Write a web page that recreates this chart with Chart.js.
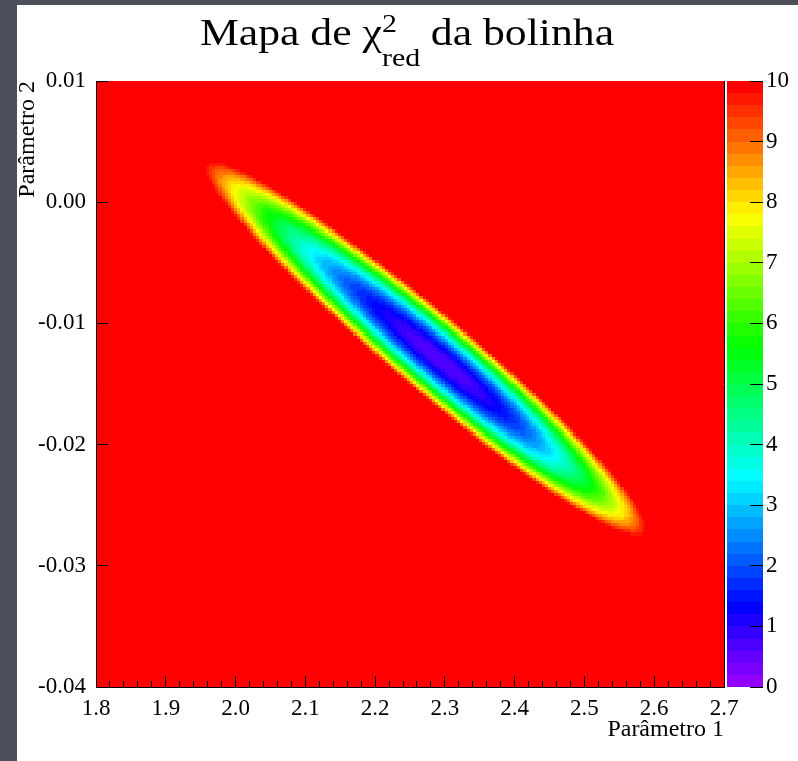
<!DOCTYPE html>
<html lang="pt">
<head>
<meta charset="utf-8">
<title>Mapa de χ² da bolinha</title>
<script src="https://cdn.jsdelivr.net/npm/chart.js@4.4.1/dist/chart.umd.min.js"></script>
<style>
    html, body { margin: 0; padding: 0; }
    body {
        width: 798px;
        height: 761px;
        overflow: hidden;
        position: relative;
        background: #4b4f59;
    }
    #panel {
        position: absolute;
        left: 17px;
        top: 5px;
        width: 781px;
        height: 756px;
        background: #fff;
    }
    #map { position: absolute; left: 0; top: 0; }
    #title {
        position: absolute;
        left: 390px;
        top: 8px;
        transform: translateX(-50%) scaleX(1.15);
        font-family: 'Liberation Serif', 'Times New Roman', serif;
        font-size: 38px;
        line-height: 38px;
        white-space: nowrap;
        color: #000;
    }
    #title .scripts {
        display: inline-block;
        position: relative;
        width: 33px;
        height: 0;
    }
    #title .scripts span {
        position: absolute;
        left: 0;
        font-size: 26px;
        line-height: 26px;
    }
    #title .sup { bottom: 8px; }
    #title .sub { top: 0; }
</style>
</head>
<body>
<div id="panel">
    <canvas id="map" width="781" height="756"></canvas>
    <div id="title">Mapa de χ<span class="scripts"><span class="sup">2</span><span class="sub">red</span></span> da bolinha</div>
</div>
<script>
// axes
const param1Range = [1.8, 2.7];
const param2Range = [-0.04, 0.01];
const param1Ticks = [1.8, 1.9, 2.0, 2.1, 2.2, 2.3, 2.4, 2.5, 2.6, 2.7];
const param2Ticks = [0.01, 0.00, -0.01, -0.02, -0.03, -0.04];
const chi2Range = [0, 10];
const chi2Ticks = [0, 1, 2, 3, 4, 5, 6, 7, 8, 9, 10];
const binCount = [200, 200];

// minimum of chi2_red and the shape of the valley around it
const bestFit = [2.297, -0.0132];
const chi2Min = 0.6;
const chi2Edge = 9.8;                 // level where the map turns red
const valleySlope = -0.0471;          // dP2/dP1 along the valley
const valleyHalfLength = [0.339, 0.290]; // in P1, towards low / high side
const valleyHalfWidth = 0.0041;       // in P2, at the centre

function chi2Red(p1, p2) {
    const t = p1 - bestFit[0];
    const r = p2 - (bestFit[1] + valleySlope * t);
    const a = t / (t < 0 ? valleyHalfLength[0] : valleyHalfLength[1]);
    const b = r / valleyHalfWidth;
    return chi2Min + (chi2Edge - chi2Min) * (a * a + b * b);
}

const bin1 = (param1Range[1] - param1Range[0]) / binCount[0];
const bin2 = (param2Range[1] - param2Range[0]) / binCount[1];
const cells = [];
for (let i = 0; i < binCount[0]; i++) {
    const p1 = param1Range[0] + (i + 0.5) * bin1;
    for (let j = 0; j < binCount[1]; j++) {
        const p2 = param2Range[0] + (j + 0.5) * bin2;
        cells.push({ x: p1, y: p2, v: chi2Red(p1, p2) });
    }
}

// ROOT "pretty" palette: 50 colours, violet -> red
const nColors = 50;
const palette = [];
for (let i = 0; i < nColors; i++) {
    const hue = 280 - (i + 1) * 280 / nColors;
    palette.push(`hsl(${hue}, 100%, 50%)`);
}

function colorFor(v) {
    const k = Math.floor(0.01 + (v - chi2Range[0]) * nColors / (chi2Range[1] - chi2Range[0]));
    return palette[Math.max(0, Math.min(nColors - 1, k))];
}

const crisp = px => Math.round(px - 0.5) + 0.5;

const chi2MapPlugin = {
    id: 'chi2Map',
    beforeDatasetsDraw(chart) {
        const { ctx, chartArea: area, scales: { x, y } } = chart;
        ctx.save();
        ctx.beginPath();
        ctx.rect(area.left, area.top, area.width, area.height);
        ctx.clip();
        for (const c of chart.data.datasets[0].data) {
            const x0 = Math.round(x.getPixelForValue(c.x - bin1 / 2));
            const x1 = Math.round(x.getPixelForValue(c.x + bin1 / 2));
            const y0 = Math.round(y.getPixelForValue(c.y + bin2 / 2));
            const y1 = Math.round(y.getPixelForValue(c.y - bin2 / 2));
            ctx.fillStyle = colorFor(c.v);
            ctx.fillRect(x0, y0, x1 - x0, y1 - y0);
        }
        ctx.restore();
    },
    afterDatasetsDraw(chart) {
        const { ctx, chartArea: area, scales: { x, z } } = chart;
        ctx.save();
        ctx.strokeStyle = '#000';
        ctx.lineWidth = 1;

        // minor ticks on the P1 axis, 5 divisions per label
        ctx.beginPath();
        for (let i = 0; i < x.ticks.length - 1; i++) {
            const a = x.ticks[i].value, b = x.ticks[i + 1].value;
            for (let k = 1; k < 5; k++) {
                const px = crisp(x.getPixelForValue(a + (b - a) * k / 5));
                ctx.moveTo(px, area.bottom);
                ctx.lineTo(px, area.bottom - 6);
            }
        }
        ctx.stroke();

        // colour bar
        const barLeft = area.right + 3;
        const barRight = area.right + 39;
        const step = (chi2Range[1] - chi2Range[0]) / nColors;
        for (let k = 0; k < nColors; k++) {
            const yTop = Math.round(z.getPixelForValue(chi2Range[0] + (k + 1) * step));
            const yBot = Math.round(z.getPixelForValue(chi2Range[0] + k * step));
            ctx.fillStyle = palette[k];
            ctx.fillRect(barLeft, yTop, barRight - barLeft, yBot - yTop);
        }
        ctx.beginPath();
        for (const t of z.ticks) {
            const py = crisp(z.getPixelForValue(t.value));
            ctx.moveTo(barRight - 13, py);
            ctx.lineTo(barRight, py);
        }
        ctx.stroke();
        ctx.restore();
    }
};

Chart.defaults.font.family = "'Liberation Serif', 'Times New Roman', serif";
Chart.defaults.color = '#000';

const tickFont = { size: 23, lineHeight: 1 };
const titleFont = { size: 24, lineHeight: 1 };

new Chart(document.getElementById('map'), {
    type: 'scatter',
    data: {
        datasets: [{
            label: 'chi2_red',
            data: cells,
            pointRadius: 0,
            pointHoverRadius: 0
        }]
    },
    options: {
        responsive: false,
        animation: false,
        events: [],
        layout: { padding: { top: 76, left: 0, right: 0, bottom: 0 } },
        plugins: {
            legend: { display: false },
            tooltip: { enabled: false },
            title: { display: false }
        },
        scales: {
            x: {
                type: 'linear',
                position: 'bottom',
                min: param1Range[0],
                max: param1Range[1],
                afterBuildTicks: s => { s.ticks = param1Ticks.map(value => ({ value })); },
                afterFit: s => { s.height = 74; },
                ticks: {
                    font: tickFont,
                    padding: 21,
                    maxRotation: 0,
                    autoSkip: false,
                    callback: v => v.toFixed(1)
                },
                grid: { z: 1, drawOnChartArea: false, drawTicks: true, tickLength: -11, color: '#000' },
                border: { z: 1, display: true, color: '#000', width: 1 },
                title: {
                    display: true,
                    text: 'Parâmetro 1',
                    align: 'end',
                    font: titleFont,
                    padding: { top: 0, bottom: 19 }
                }
            },
            y: {
                type: 'linear',
                position: 'left',
                min: param2Range[0],
                max: param2Range[1],
                afterBuildTicks: s => { s.ticks = param2Ticks.map(value => ({ value })); },
                afterFit: s => { s.width = 79; },
                ticks: {
                    font: tickFont,
                    padding: 22,
                    autoSkip: false,
                    callback: v => (Math.abs(v) < 1e-9 ? 0 : v).toFixed(2)
                },
                grid: { z: 1, drawOnChartArea: false, drawTicks: true, tickLength: -12, color: '#000' },
                border: { z: 1, display: true, color: '#000', width: 1 },
                title: {
                    display: true,
                    text: 'Parâmetro 2',
                    align: 'end',
                    font: titleFont,
                    padding: { top: -1, bottom: 0 }
                }
            },
            z: {
                type: 'linear',
                axis: 'y',
                position: 'right',
                min: chi2Range[0],
                max: chi2Range[1],
                afterBuildTicks: s => { s.ticks = chi2Ticks.map(value => ({ value })); },
                afterFit: s => { s.width = 74; },
                ticks: {
                    font: tickFont,
                    padding: 42,
                    autoSkip: false,
                    callback: v => String(v)
                },
                grid: { z: 1, display: false, drawTicks: false, tickLength: 0 },
                border: { z: 1, display: true, color: '#000', width: 1 }
            }
        }
    },
    plugins: [chi2MapPlugin]
});
</script>
</body>
</html>
